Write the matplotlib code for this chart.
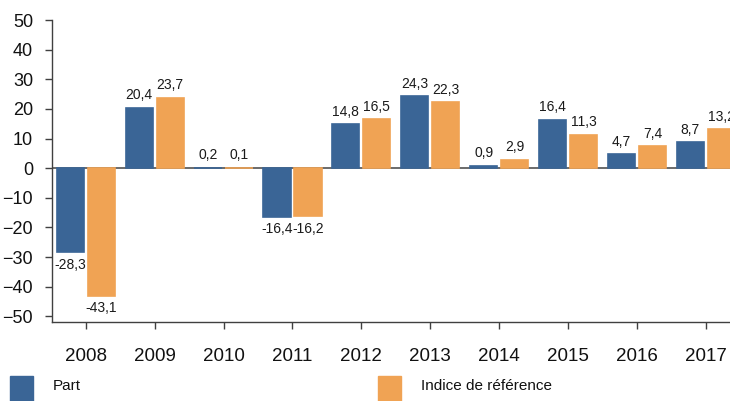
import numpy as np
import matplotlib.pyplot as plt
from matplotlib.patches import Rectangle

plt.rcParams['font.family'] = ['Liberation Sans', 'DejaVu Sans']

# data
years = ['2008', '2009', '2010', '2011', '2012', '2013', '2014', '2015', '2016', '2017']
part = [-28.3, 20.4, 0.2, -16.4, 14.8, 24.3, 0.9, 16.4, 4.7, 8.7]
indice = [-43.1, 23.7, 0.1, -16.2, 16.5, 22.3, 2.9, 11.3, 7.4, 13.2]
series_names = ['Part', 'Indice de référence']

blue = '#3A6596'
orange = '#F0A354'

fig = plt.figure(figsize=(7.30, 4.01), dpi=100)
ax = fig.add_axes([0.0712, 0.197, 0.942, 0.753])

x = np.arange(len(years))
w = 0.395
off = 0.225
b1 = ax.bar(x - off, part, w, color=blue, edgecolor=blue, lw=1.2, zorder=2)
b2 = ax.bar(x + off, indice, w, color=orange, edgecolor=orange, lw=1.2, zorder=2)

def fmt(v):
    return f'{v:.1f}'.replace('.', ',')

for bars, vals in ((b1, part), (b2, indice)):
    ax.bar_label(bars, labels=[fmt(v) for v in vals], padding=4,
                 fontsize=10, color='#1a1a1a', clip_on=False)

ax.axhline(0, color='#6a6a6a', lw=1.4, zorder=1.5)

ax.set_xlim(-0.49, len(years) - 0.51)
ax.set_ylim(-51.9, 50)
ax.set_yticks(range(-50, 51, 10))
ax.set_xticks(x)
ax.set_xticklabels(years)

for s in ['top', 'right']:
    ax.spines[s].set_visible(False)
for s in ['left', 'bottom']:
    ax.spines[s].set_color('#404040')
    ax.spines[s].set_linewidth(1.0)

ax.tick_params(axis='y', length=5, width=1, color='#404040', pad=8.5,
               labelsize=13, labelcolor='#111111')
ax.tick_params(axis='x', length=5, width=1, color='#404040', pad=14,
               labelsize=13.5, labelcolor='#111111')

# legend along the bottom
fig.add_artist(Rectangle((10 / 730, 0), 23 / 730, 25 / 401,
                         transform=fig.transFigure, color=blue))
fig.text(53 / 730, 1 - 386 / 401, series_names[0], fontsize=11,
         va='center', color='#111111')
fig.add_artist(Rectangle((378 / 730, 0), 23 / 730, 25 / 401,
                         transform=fig.transFigure, color=orange))
fig.text(421 / 730, 1 - 386 / 401, series_names[1], fontsize=11,
         va='center', color='#111111')

fig.savefig('out.png', dpi=100)
